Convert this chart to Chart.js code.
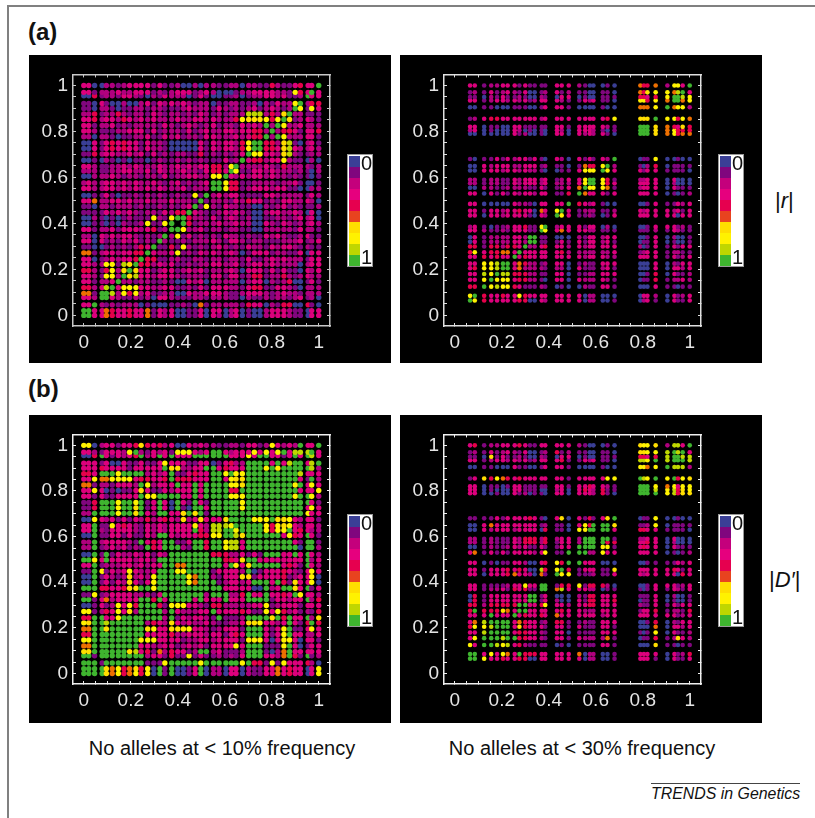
<!DOCTYPE html>
<html>
<head>
<meta charset="utf-8">
<title>LD plots</title>
<script src="https://cdn.jsdelivr.net/npm/chart.js@4/dist/chart.umd.min.js"></script>
<style>
  html, body { margin: 0; padding: 0; background: #fff; overflow: hidden; }
  body { width: 815px; height: 818px; position: relative; font-family: "Liberation Sans", Arial, sans-serif; color: #111; }
  #frame { position: absolute; left: 7px; top: 5px; width: 830px; height: 830px; border: 2px solid #808080; }
  .panel { position: absolute; background: #000; }
  .label { position: absolute; white-space: nowrap; }
  .bar { position: absolute; width: 24px; height: 111px; background: #fff; border: 1px solid #999; }
  .bar i { position: absolute; left: 1px; width: 11px; height: 11px; }
  .bar b { position: absolute; right: 0; font: 20px "Liberation Sans", Arial, sans-serif; color: #111; }
</style>
</head>
<body>
<div id="frame"></div>
<div class="label" style="left:28px;top:18px;font:bold 24px 'Liberation Sans'">(a)</div>
<div class="label" style="left:28px;top:375px;font:bold 24px 'Liberation Sans'">(b)</div>
<div class="label" style="left:0;width:444px;text-align:center;top:737px;font-size:20px">No alleles at &lt; 10% frequency</div>
<div class="label" style="left:360px;width:444px;text-align:center;top:737px;font-size:20px">No alleles at &lt; 30% frequency</div>
<div class="label" style="left:775px;top:188px;font-size:22px">|<i>r</i>|</div>
<div class="label" style="left:769px;top:567px;font-size:22px">|<i>D′</i>|</div>
<div style="position:absolute;left:651px;top:783px;width:149px;height:1px;background:#444"></div>
<div class="label" style="left:651px;top:785px;font:italic 15.9px 'Liberation Sans'">TRENDS in Genetics</div>

<script>
// SNP positions along the region, one list for each allele frequency cutoff
const positions10 = [0, .021, .046, .078, .096, .121, .147, .171, .195, .222, .244, .272, .298, .324, .345,
  .374, .4, .424, .448, .474, .498, .522, .552, .576, .605, .628, .648, .675, .702, .726, .75, .777, .802,
  .826, .852, .876, .9, .922, .955, .97, 1];
const positions30 = [.065, .085, .125, .155, .18, .205, .225, .255, .275, .3, .32, .34, .37, .385, .435, .455,
  .485, .53, .555, .575, .59, .63, .65, .68, .79, .805, .82, .855, .905, .935, .95, .97, 1];

// lower triangle of each symmetric matrix, binned 0-9 like the colour key
const rValues10 = [
  '9', '99', '339', '3329', '55199', '442389', '3312239', '33217729', '442147269', '3322771869',
  '33012 32334 9', '55123 32334 49', '11001 21212 439', '33031 21323 1219', '22032 32332 12129',
  '33122 31333 23412 9', '00110 10211 27117 9', '00210 10121 11721 79 9', '11113 23232 12213 24 49',
  '11022 12221 21121 21239', '33522 33232 23222 32221 9', '00113 10112 12121 12117 19',
  '33223 32323 23232 22312 229', '23223 32323 22321 23121 2399', '00222 32122 12213 12233 22779',
  '22211 22332 23132 22322 13443 9', '33211 22323 22232 23232 33442 79',
  '00102 10101 10121 12121 21113 129', '11423 32232 31312 12211 41212 1239',
  '00313 43433 13221 00000 31323 32479', '00313 43433 13221 00000 31323 32479 9',
  '22022 10112 23113 23122 13322 23234 49', '33211 12233 31312 22131 23223 32334 429',
  '33122 31212 22213 21232 12312 21323 2929', '33423 32432 32322 23223 32322 24766 67479',
  '22412 24212 21321 22121 32121 22288 82426 9', '11022 10112 21221 11232 22132 12123 12321 29',
  '11031 00200 23132 32321 22011 22112 02132 279', '00412 21332 10213 22201 31001 12012 23323 1129',
  '33122 23223 33121 23331 23200 01223 33322 17439', '33002 21233 33131 12002 02211 22022 11421 13433 9'
];
const dValues10 = [
  '9', '99', '999', '9919', '66999', '559999', '7799999', '44999999', '559969999', '7699899999',
  '44993 37999 9', '77124 37362 99', '00131 27374 999', '99135 23333 9949', '11712 33332 22139',
  '99944 33466 99799 9', '00913 13263 13799 99', '00913 21262 32799 999', '11971 32373 22399 9779',
  '33912 22332 32339 95599', '99739 33332 33299 99999 9', '00919 13223 23132 99999 99',
  '22912 32312 19439 99219 949', '22923 33321 93439 91139 9499', '00911 33131 13299 32333 44779',
  '33921 33332 13232 33339 42889 9', '33911 73432 13232 33337 32888 79',
  '00732 31313 24234 32623 63336 999', '22999 97996 93299 33696 91999 9999',
  '11499 97996 91393 09109 93999 99799', '11499 97997 91393 09319 31999 99799 9',
  '33131 13333 97799 99339 39999 77799 99', '33730 10113 63113 23339 39999 44999 999',
  '55122 13332 97233 39339 39999 77699 9999', '33755 77773 44334 94443 33993 76699 99999',
  '44399 97999 92323 91134 33997 97799 99999 9', '33343 33313 33339 66223 39934 33399 97979 99',
  '33313 00311 31137 33311 33013 42299 99393 899', '00493 13234 92393 93339 99999 33373 99331 3939',
  '33213 33279 21323 17773 23993 23337 37379 38889', '77023 31334 64342 30032 32211 22133 12732 32933 9'
];
const rValues30 = [
  '9', '79', '449', '3379', '33879', '347789', '3377899', '33434339', '473445539', '4414424439',
  '03122 22332 9', '03122 22332 99', '33211 21333 119', '23101 12334 1179', '33033 23333 10329',
  '33133 23343 30537 9', '33000 00322 10333 39', '33031 31323 32331 149', '00221 12222 11311 2359',
  '22122 11323 33232 22379', '22122 11323 33231 23379 9', '00333 23323 22100 11377 79',
  '00323 33223 33121 10154 479', '10113 13233 13103 20313 1329', '00000 00312 00103 30323 23109',
  '23010 00320 10103 20333 21019 9', '33011 00331 11113 31333 33219 99',
  '12344 33333 33233 33333 33476 669', '00110 00111 00133 31000 01005 5579',
  '33123 32323 12333 21132 31107 74759', '11021 31121 00210 33010 01114 43479 9',
  '12131 23213 00123 12110 01105 46775 89', '33122 33313 11113 33210 00105 44527 739'
];
const dValues30 = [
  '9', '99', '739', '3799', '33899', '477899', '3589999', '33393339', '494446539', '4424444499',
  '04133 33333 9', '04133 33333 99', '33122 31434 119', '33111 12337 3399', '33033 34533 20519',
  '33133 34343 00847 9', '33010 11332 00347 49', '35131 31333 32371 199', '00121 12323 11311 3399',
  '22121 11324 44241 33299', '22121 11324 44242 33299 9', '00323 33233 33041 10779 99',
  '00353 33333 33121 10374 999', '11113 13333 43103 60314 1369', '33001 00312 01103 30333 24109',
  '33010 00331 11002 30343 24119 9', '33011 01331 11113 31334 33219 99',
  '13647 54343 33333 31333 33779 879', '00110 00311 00133 31000 01007 7579',
  '33123 32323 12333 41132 31108 87989', '11061 31121 00210 33010 01114 43489 9',
  '12131 23213 00124 12110 01106 67789 89', '34122 33343 11333 33210 00106 77628 839'
];

const tickValues = [];
for (let t = 0; t <= 20; t++) tickValues.push(t / 20);
const tickLabels = ['0', '0.2', '0.4', '0.6', '0.8', '1'];

const levelColors = ['#3a3f96', '#80067e', '#b0007e', '#dc007c', '#e6004a', '#ee7000', '#ffdd00', '#fff200', '#bfd600', '#3fb52f'];
const keyColors = ['#3a3f96', '#80067e', '#c4007c', '#e6007e', '#e6004f', '#e8431f', '#ffdd00', '#fff200', '#bfd600', '#3fb52f'];

function buildPoints(pos, rows) {
  const data = [], colors = [];
  rows.forEach((row, r) => {
    const vals = row.replace(/ /g, '');
    for (let c = 0; c < vals.length; c++) {
      const color = levelColors[+vals[c]];
      data.push({ x: pos[c], y: pos[r] });
      colors.push(color);
      if (c !== r) {
        data.push({ x: pos[r], y: pos[c] });
        colors.push(color);
      }
    }
  });
  return { data, colors };
}

function makePanel(cfg) {
  const box = document.createElement('div');
  box.className = 'panel';
  box.style.cssText = `left:${cfg.left}px;top:${cfg.top}px;width:362px;height:308px`;
  const canvas = document.createElement('canvas');
  canvas.width = 362;
  canvas.height = 308;
  canvas.style.display = 'block';
  box.appendChild(canvas);
  document.body.appendChild(box);

  const { data, colors } = buildPoints(cfg.pos, cfg.rows);
  const setTicks = s => { s.ticks = tickValues.map(value => ({ value })); };
  const tickText = v => {
    const i = Math.round(v * 100);
    return i % 20 === 0 ? tickLabels[i / 20] : '';
  };
  const axis = (position, extra) => ({
    type: 'linear',
    position,
    min: -0.046,
    max: 1.048,
    afterBuildTicks: setTicks,
    border: { color: cfg.frame, width: 1.5 },
    grid: { drawOnChartArea: false, tickLength: -3, tickColor: cfg.frame, tickWidth: 1 },
    ...extra
  });
  const hidden = { display: false };
  const labelTicks = padding => ({
    autoSkip: false, maxRotation: 0, padding, color: '#e4e4e4',
    font: { family: 'Liberation Sans', size: 19 }, callback: tickText
  });

  new Chart(canvas, {
    type: 'scatter',
    data: { datasets: [{ data, pointBackgroundColor: colors, pointBorderWidth: 0, pointRadius: cfg.radius }] },
    options: {
      responsive: false,
      animation: false,
      events: [],
      layout: { padding: { left: 0, top: cfg.plotTop, right: 61, bottom: 0 } },
      plugins: { legend: { display: false }, tooltip: { enabled: false } },
      scales: {
        x: axis('bottom', { ticks: labelTicks(8), afterFit: s => { s.height = 308 - cfg.plotBottom; } }),
        y: axis('left', { ticks: labelTicks(8), afterFit: s => { s.width = 44; } }),
        x2: axis('top', { ticks: hidden, afterFit: s => { s.height = 0; } }),
        y2: axis('right', { ticks: hidden, afterFit: s => { s.width = 0; } })
      }
    }
  });

  // colour key
  const key = document.createElement('div');
  key.className = 'bar';
  key.style.left = '318px';
  key.style.top = '99px';
  keyColors.forEach((col, i) => {
    const sw = document.createElement('i');
    sw.style.top = (1 + i * 11) + 'px';
    sw.style.background = col;
    key.appendChild(sw);
  });
  key.insertAdjacentHTML('beforeend', '<b style="top:-3px">0</b><b style="bottom:-3px">1</b>');
  box.appendChild(key);
}

makePanel({ left: 29, top: 55, pos: positions10, rows: rValues10, radius: 2.7, frame: '#c8c8c8', plotTop: 14, plotBottom: 271 });
makePanel({ left: 400, top: 55, pos: positions30, rows: rValues30, radius: 2.3, frame: '#e0e0e0', plotTop: 14, plotBottom: 271 });
makePanel({ left: 29, top: 415, pos: positions10, rows: dValues10, radius: 2.7, frame: '#f0f0f0', plotTop: 13, plotBottom: 269 });
makePanel({ left: 400, top: 415, pos: positions30, rows: dValues30, radius: 2.3, frame: '#f0f0f0', plotTop: 13, plotBottom: 269 });
</script>
</body>
</html>
